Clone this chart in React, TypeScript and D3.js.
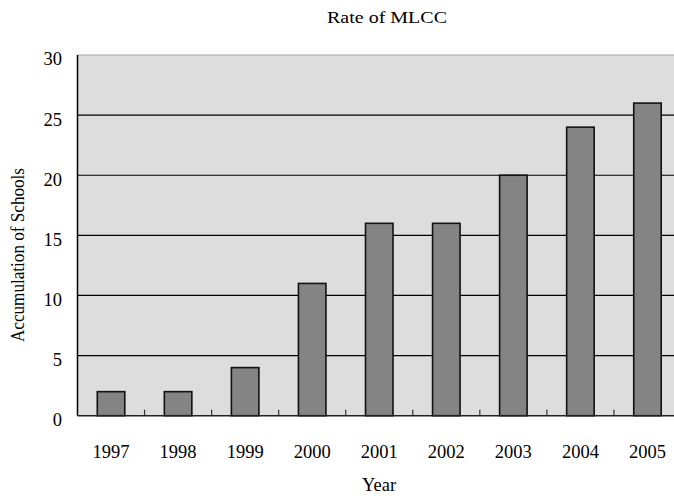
import React from "react";
import * as d3 from "d3";

const years = ["1997", "1998", "1999", "2000", "2001", "2002", "2003", "2004", "2005"];
const schools = [2, 2, 4, 11, 16, 16, 20, 24, 26];
const yTicks = [0, 5, 10, 15, 20, 25, 30];

const W = 674;
const H = 496;
const left = 77.5;
const right = 681;
const top = 55;
const bottom = 415.7;
const font = "'Liberation Serif', 'Times New Roman', serif";

export default function App() {
  const x = d3.scaleBand<string>().domain(years).range([left, right]).paddingInner(0.59).paddingOuter(0.295);
  const xb = d3.scaleBand<string>().domain(years).range([left, right]);
  const y = d3.scaleLinear().domain([0, 30]).range([bottom, top]);

  return (
    <svg width={W} height={H} style={{ position: "absolute", left: 0, top: 0 }}>
      <rect x={left} y={top} width={right - left} height={bottom - top} fill="#dddddd" />
      <line x1={left} x2={right} y1={top} y2={top} stroke="#a8a8a8" strokeWidth={1.2} />
      {yTicks.filter((t) => t > 0 && t < 30).map((t) => (
        <line key={t} x1={left} x2={right} y1={y(t)} y2={y(t)} stroke="#000" strokeWidth={1.2} />
      ))}
      {years.map((yr, i) => (
        <rect
          key={yr}
          x={x(yr)}
          y={y(schools[i])}
          width={x.bandwidth()}
          height={bottom - y(schools[i])}
          fill="#848484"
          stroke="#111"
          strokeWidth={1.6}
        />
      ))}
      {years.slice(1).map((yr) => (
        <line key={yr} x1={xb(yr)} x2={xb(yr)} y1={bottom} y2={bottom - 6} stroke="#333" strokeWidth={1.2} />
      ))}
      <line x1={left} x2={left} y1={top} y2={bottom} stroke="#000" strokeWidth={1.5} />
      <line x1={left} x2={right} y1={bottom} y2={bottom} stroke="#222" strokeWidth={1.5} />
      {yTicks.map((t) => (
        <text key={t} x={62} y={y(t) + 4} dy="0.35em" textAnchor="end" fontFamily={font} fontSize={18.5} fill="#000">
          {t}
        </text>
      ))}
      {years.map((yr) => (
        <text key={yr} x={xb(yr)! + xb.bandwidth() / 2} y={458} textAnchor="middle" fontFamily={font} fontSize={18.5} fill="#000">
          {yr}
        </text>
      ))}
      <text x={379} y={491} textAnchor="middle" fontFamily={font} fontSize={18.5} fill="#000">Year</text>
      <text x={387} y={23} textAnchor="middle" fontFamily={font} fontSize={17.5} fill="#000" textLength={120} lengthAdjust="spacingAndGlyphs">Rate of MLCC</text>
      <text
        transform={`translate(24, 255) rotate(-90)`}
        textAnchor="middle"
        fontFamily={font}
        fontSize={18}
        fill="#000"
        textLength={174}
        lengthAdjust="spacingAndGlyphs"
      >
        Accumulation of Schools
      </text>
    </svg>
  );
}
